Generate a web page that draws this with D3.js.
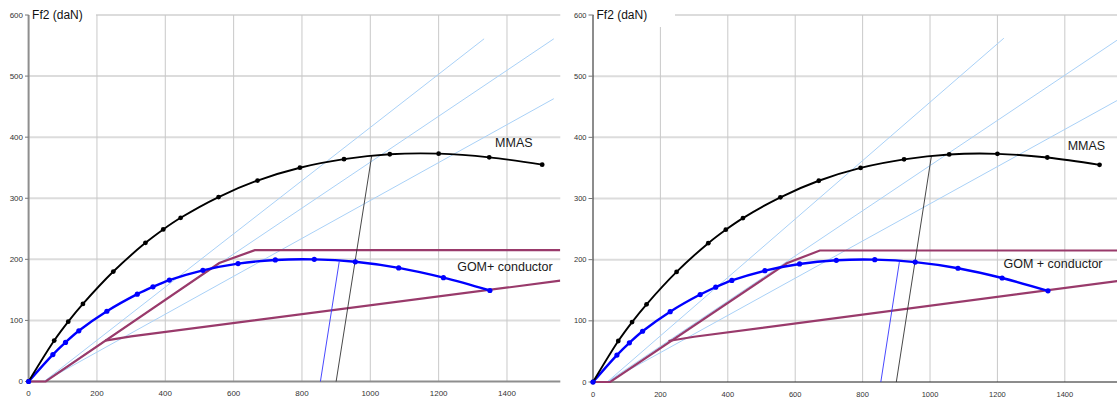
<!DOCTYPE html>
<html>
<head>
<meta charset="utf-8">
<script src="https://cdn.jsdelivr.net/npm/d3@7"></script>
<style>
  html, body { margin: 0; padding: 0; background: #fff; }
  svg { display: block; }
</style>
</head>
<body>
<svg id="chart" width="1117" height="402"></svg>
<script>
// ---- data (span in m on x, Ff2 in daN on y) ----
const xTicks = [0, 200, 400, 600, 800, 1000, 1200, 1400];
const yTicks = [0, 100, 200, 300, 400, 500, 600];
const yTitle = "Ff2 (daN)";

// MMAS curve
const mmasX = [0, 75, 116, 159, 248, 342, 394, 445, 556, 670, 794, 923, 1057, 1200, 1348, 1503];
const mmasY = [0, 67, 98, 127, 180, 227, 249, 268, 302, 329, 350, 364, 372, 373, 367, 355];

// GOM + conductor curve
const gomX = [0, 71, 108, 147, 229, 318, 364, 412, 510, 613, 722, 836, 956, 1083, 1214, 1350];
const gomY = [0, 44, 64, 83, 115, 143, 155, 166, 182, 193, 199, 200, 196, 186, 170, 149];

// thin construction lines down to the x axis
const mmasDropX = [900, 1004];
const mmasDropY = [0, 369];
const gomDropX = [854, 909];
const gomDropY = [0, 196];

// light blue ray lines, one [x0, y0, x1, y1] per ray
const raysLeft = [[45, 0, 1333, 561], [45, 0, 1537, 561], [45, 0, 1537, 463]];
const raysRight = [[42, 0, 1219, 562], [42, 0, 1561, 561], [42, 0, 1561, 462]];

// plum limit lines
const limitUpperXLeft = [0, 50, 558, 662, 1556];
const limitUpperYLeft = [0, 0, 194, 215, 215];
const limitUpperXRight = [0, 51, 575, 673, 1556];
const limitUpperYRight = [0, 0, 194, 215, 215];
const limitLowerX = [224, 300, 1556];
const limitLowerY = [67, 74, 165];

// series labels and where they sit (data units)
const labelsLeft = [["MMAS", 1420, 391], ["GOM+ conductor", 1394, 188]];
const labelsRight = [["MMAS", 1464, 386], ["GOM + conductor", 1365, 193]];

const zip = (xs, ys) => xs.map((x, i) => [x, ys[i]]);

// ---- layout of the two panels ----
const panels = [
  {
    id: "l", x0: 28.6, x1: 560.3, y0: 381.5, y1: 15, xMax: 1556,
    axisColor: "#8e8e8e", axisWidth: 2, tickSize: 8,
    labelRight: 23, tickFrom: 25,
    box: [29, 0, 67, 21],
    rays: raysLeft, upper: zip(limitUpperXLeft, limitUpperYLeft), labels: labelsLeft
  },
  {
    id: "r", x0: 593, x1: 1117.4, y0: 382, y1: 15, xMax: 1556,
    axisColor: "#1a1a1a", axisWidth: 1, tickSize: 7.5,
    labelRight: 586.5, tickFrom: 588.5,
    box: [594, 0, 81, 27],
    rays: raysRight, upper: zip(limitUpperXRight, limitUpperYRight), labels: labelsRight
  }
];

const svg = d3.select("#chart");
const font = "'Liberation Sans', Arial, sans-serif";

panels.forEach(p => {
  const x = d3.scaleLinear().domain([0, p.xMax]).range([p.x0, p.x1]);
  const y = d3.scaleLinear().domain([0, 600]).range([p.y0, p.y1]);
  const g = svg.append("g");

  g.append("clipPath").attr("id", "clip-" + p.id)
    .append("rect")
    .attr("x", p.x0 - 4).attr("y", p.y1 - 4)
    .attr("width", p.x1 - p.x0 + 4).attr("height", p.y0 - p.y1 + 8);

  // grid
  const grid = g.append("g");
  grid.selectAll("line.h").data(yTicks.filter(d => d > 0)).join("line")
    .attr("x1", p.x0).attr("x2", p.x1)
    .attr("y1", d => y(d)).attr("y2", d => y(d))
    .attr("stroke", "#dcdcdc").attr("stroke-width", 2);
  grid.selectAll("line.v").data(xTicks.filter(d => d > 0)).join("line")
    .attr("x1", d => x(d)).attr("x2", d => x(d))
    .attr("y1", p.y1).attr("y2", p.y0)
    .attr("stroke", "#c9c9c9").attr("stroke-width", 1);

  // white box behind the axis title
  g.append("rect")
    .attr("x", p.box[0]).attr("y", p.box[1])
    .attr("width", p.box[2]).attr("height", p.box[3])
    .attr("fill", "#fff");

  // axes
  g.append("line")
    .attr("x1", p.x0).attr("x2", p.x1).attr("y1", p.y0).attr("y2", p.y0)
    .attr("stroke", p.axisColor).attr("stroke-width", p.axisWidth);
  g.append("line")
    .attr("x1", p.x0).attr("x2", p.x0).attr("y1", p.y1).attr("y2", p.y0)
    .attr("stroke", p.axisColor).attr("stroke-width", p.axisWidth);

  g.selectAll("line.yt").data(yTicks).join("line")
    .attr("x1", p.tickFrom).attr("x2", p.x0)
    .attr("y1", d => y(d)).attr("y2", d => y(d))
    .attr("stroke", "#777").attr("stroke-width", 1);

  g.selectAll("text.yl").data(yTicks).join("text")
    .attr("x", p.labelRight).attr("y", d => y(d))
    .attr("dy", "0.35em").attr("text-anchor", "end")
    .attr("font-family", font).attr("font-size", p.tickSize).attr("fill", "#333")
    .text(d => d);

  g.selectAll("text.xl").data(xTicks).join("text")
    .attr("x", d => x(d)).attr("y", p.y0 + 12)
    .attr("dy", "0.35em").attr("text-anchor", "middle")
    .attr("font-family", font).attr("font-size", p.tickSize).attr("fill", "#333")
    .text(d => d);

  g.append("text")
    .attr("x", p.x0 + 3.5).attr("y", p.y1)
    .attr("dy", "0.35em")
    .attr("font-family", font).attr("font-size", 12).attr("fill", "#111")
    .text(yTitle);

  // plotted marks
  const plot = g.append("g").attr("clip-path", `url(#clip-${p.id})`);
  const straight = d3.line().x(d => x(d[0])).y(d => y(d[1]));
  const smooth = d3.line().x(d => x(d[0])).y(d => y(d[1])).curve(d3.curveCatmullRom.alpha(0.5));

  plot.selectAll("line.ray").data(p.rays).join("line")
    .attr("x1", d => x(d[0])).attr("y1", d => y(d[1]))
    .attr("x2", d => x(d[2])).attr("y2", d => y(d[3]))
    .attr("stroke", "#a9d1f7").attr("stroke-width", 1);

  plot.append("path").datum(p.upper).attr("d", straight)
    .attr("fill", "none").attr("stroke", "#993a6b").attr("stroke-width", 2.2);
  plot.append("path").datum(zip(limitLowerX, limitLowerY)).attr("d", straight)
    .attr("fill", "none").attr("stroke", "#993a6b").attr("stroke-width", 2.2);

  plot.append("path").datum(zip(mmasDropX, mmasDropY)).attr("d", straight)
    .attr("fill", "none").attr("stroke", "#333").attr("stroke-width", 0.9);
  plot.append("path").datum(zip(gomDropX, gomDropY)).attr("d", straight)
    .attr("fill", "none").attr("stroke", "#3434ff").attr("stroke-width", 0.9);

  const mmas = zip(mmasX, mmasY);
  const gom = zip(gomX, gomY);

  plot.append("path").datum(gom).attr("d", smooth)
    .attr("fill", "none").attr("stroke", "#0000ff").attr("stroke-width", 2.4);
  plot.append("path").datum(mmas).attr("d", smooth)
    .attr("fill", "none").attr("stroke", "#000").attr("stroke-width", 1.9);

  plot.selectAll("circle.m").data(mmas).join("circle")
    .attr("cx", d => x(d[0])).attr("cy", d => y(d[1])).attr("r", 2.4)
    .attr("fill", "#000");
  plot.selectAll("circle.g").data(gom).join("circle")
    .attr("cx", d => x(d[0])).attr("cy", d => y(d[1])).attr("r", 2.6)
    .attr("fill", "#0000ff");

  // series names
  g.selectAll("text.lab").data(p.labels).join("text")
    .attr("x", d => x(d[1])).attr("y", d => y(d[2]))
    .attr("dy", "0.35em").attr("text-anchor", "middle")
    .attr("font-family", font).attr("font-size", 12.5).attr("fill", "#1a1a1a")
    .text(d => d[0]);
});
</script>
</body>
</html>
